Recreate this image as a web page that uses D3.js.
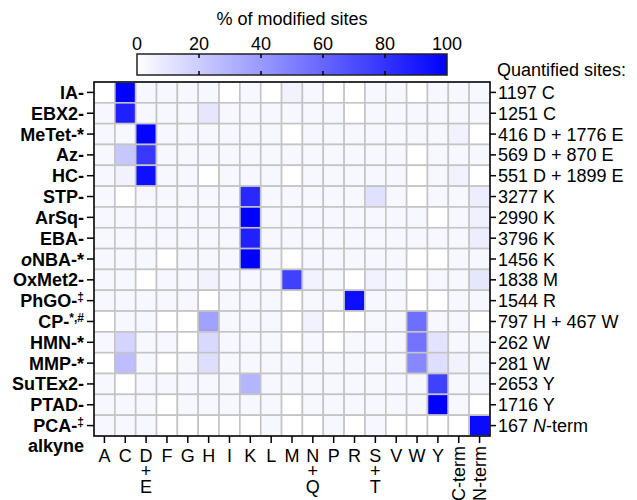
<!DOCTYPE html>
<html>
<head>
<meta charset="utf-8">
<script src="https://cdn.jsdelivr.net/npm/d3@7"></script>
<style>
body { margin: 0; background: #fff; }
text { font-family: Arial, "Liberation Sans", sans-serif; fill: #000; }
</style>
</head>
<body>
<svg id="chart" width="637" height="500"></svg>
<script>
// rows (probes) and their footnote marks
var reagents = ["IA", "EBX2", "MeTet", "Az", "HC", "STP", "ArSq", "EBA", "oNBA",
	"OxMet2", "PhGO", "CP", "HMN", "MMP", "SuTEx2", "PTAD", "PCA"];
var marks = ["", "", "*", "", "", "", "", "", "*", "", "\u2021", "*,#", "*", "*", "", "", "\u2021"];

// columns (residues)
var residues = ["A", "C", "D+E", "F", "G", "H", "I", "K", "L", "M", "N+Q", "P", "R",
	"S+T", "V", "W", "Y", "C-term", "N-term"];

// right-hand labels: quantified sites
var sites = ["1197 C", "1251 C", "416 D + 1776 E", "569 D + 870 E", "551 D + 1899 E",
	"3277 K", "2990 K", "3796 K", "1456 K", "1838 M", "1544 R", "797 H + 467 W",
	"262 W", "281 W", "2653 Y", "1716 Y", "167 N-term"];

// % of modified sites, one row per probe, columns as in residues
var pct = [
	[0, 100, 3, 3, 3, 3, 0, 3, 0, 5, 3, 0, 0, 3, 3, 0, 3, 3, 3],
	[3, 88, 3, 3, 3, 10, 3, 3, 3, 3, 3, 3, 0, 3, 3, 3, 3, 3, 3],
	[3, 3, 99, 3, 3, 3, 3, 3, 3, 0, 3, 3, 3, 3, 3, 3, 3, 5, 0],
	[3, 22, 78, 3, 3, 3, 3, 3, 3, 3, 3, 3, 3, 3, 3, 0, 3, 3, 3],
	[3, 5, 94, 3, 3, 0, 3, 3, 3, 0, 3, 3, 3, 3, 3, 0, 3, 5, 0],
	[3, 0, 3, 3, 3, 3, 3, 84, 3, 3, 3, 3, 3, 12, 3, 0, 3, 3, 7],
	[3, 3, 3, 3, 3, 3, 3, 100, 3, 3, 3, 3, 3, 3, 3, 3, 0, 3, 6],
	[3, 3, 3, 3, 3, 3, 3, 87, 3, 3, 3, 3, 3, 3, 3, 3, 3, 3, 7],
	[3, 3, 3, 0, 3, 3, 3, 100, 3, 0, 3, 3, 3, 3, 3, 0, 0, 3, 3],
	[3, 3, 0, 3, 3, 5, 3, 3, 3, 75, 5, 3, 0, 5, 3, 0, 3, 3, 10],
	[3, 3, 3, 3, 3, 0, 3, 3, 3, 0, 3, 3, 95, 3, 3, 0, 0, 3, 3],
	[0, 3, 3, 0, 0, 37, 3, 3, 3, 0, 5, 0, 0, 3, 3, 57, 3, 3, 0],
	[3, 17, 3, 3, 0, 15, 3, 3, 3, 0, 3, 0, 3, 3, 3, 55, 11, 3, 3],
	[0, 26, 3, 0, 3, 13, 3, 3, 3, 3, 3, 3, 3, 3, 3, 47, 13, 5, 3],
	[3, 0, 3, 3, 3, 3, 3, 29, 3, 3, 3, 3, 3, 3, 3, 3, 75, 3, 3],
	[3, 3, 3, 0, 3, 3, 3, 3, 3, 0, 3, 3, 3, 3, 3, 3, 100, 3, 0],
	[3, 3, 3, 0, 0, 0, 0, 0, 3, 0, 0, 3, 0, 3, 0, 0, 0, 0, 96]
];

var barTicks = [0, 20, 40, 60, 80, 100];

var svg = d3.select("#chart");

var x = d3.scaleBand().domain(residues).range([94, 490]);
var y = d3.scaleBand().domain(reagents).range([82, 436]);
var color = d3.scaleLinear().domain([0, 100]).range(["#ffffff", "#0000ff"]);

// cells
var cells = [];
pct.forEach(function (row, i) {
	row.forEach(function (v, j) {
		cells.push({r: reagents[i], c: residues[j], v: v});
	});
});

svg.append("g").selectAll("rect").data(cells).join("rect")
	.attr("x", d => x(d.c))
	.attr("y", d => y(d.r))
	.attr("width", x.bandwidth())
	.attr("height", y.bandwidth())
	.attr("fill", d => color(d.v))
	.attr("stroke", "#c4c4c4")
	.attr("stroke-width", 1.6);

svg.append("rect")
	.attr("x", 94).attr("y", 82).attr("width", 396).attr("height", 354)
	.attr("fill", "none").attr("stroke", "#000").attr("stroke-width", 1.5);

// axes (ticks only, labels drawn by hand)
function tickOnly(g) {
	g.select(".domain").remove();
	g.selectAll(".tick line").attr("stroke", "#000").attr("stroke-width", 1.5);
	g.selectAll(".tick text").remove();
}
svg.append("g").attr("transform", "translate(94,0)")
	.call(d3.axisLeft(y).tickSize(7)).call(tickOnly);
svg.append("g").attr("transform", "translate(490,0)")
	.call(d3.axisRight(y).tickSize(6)).call(tickOnly);
svg.append("g").attr("transform", "translate(0,436)")
	.call(d3.axisBottom(x).tickSize(7)).call(tickOnly);

// left labels
var left = svg.append("g").selectAll("text").data(reagents).join("text")
	.attr("x", 84)
	.attr("y", d => y(d) + y.bandwidth() / 2 + 6.5)
	.attr("text-anchor", "end")
	.attr("font-size", 18)
	.attr("font-weight", "bold");
left.each(function (d, i) {
	var t = d3.select(this);
	if (d === "oNBA") {
		t.append("tspan").attr("font-style", "italic").text("o");
		t.append("tspan").text("NBA-");
	} else {
		t.append("tspan").text(d + "-");
	}
	var m = marks[i];
	if (m === "*") t.append("tspan").text("*");
	else if (m) t.append("tspan").attr("font-size", 12).attr("dy", -6).text(m);
});
svg.append("text")
	.attr("x", 84).attr("y", 452)
	.attr("text-anchor", "end").attr("font-size", 18).attr("font-weight", "bold")
	.text("alkyne");

// right labels
var right = svg.append("g").selectAll("text").data(sites).join("text")
	.attr("x", 498)
	.attr("y", (d, i) => y(reagents[i]) + y.bandwidth() / 2 + 6.5)
	.attr("font-size", 18);
right.each(function (d) {
	var t = d3.select(this);
	var k = d.indexOf("N-term");
	if (k >= 0) {
		t.append("tspan").text(d.slice(0, k));
		t.append("tspan").attr("font-style", "italic").text("N");
		t.append("tspan").text("-term");
	} else {
		t.text(d);
	}
});
svg.append("text").attr("x", 497).attr("y", 76).attr("font-size", 18)
	.text("Quantified sites:");

// bottom labels
residues.forEach(function (r) {
	var cx = x(r) + x.bandwidth() / 2;
	if (r.indexOf("term") >= 0) {
		svg.append("text")
			.attr("transform", "translate(" + (cx + 6.5) + ",446) rotate(-90)")
			.attr("text-anchor", "end").attr("font-size", 18).text(r);
	} else {
		var parts = r.split("+");
		var t = svg.append("text").attr("y", 462)
			.attr("text-anchor", "middle").attr("font-size", 18);
		t.append("tspan").attr("x", cx).text(parts[0]);
		if (parts.length > 1) {
			t.append("tspan").attr("x", cx).attr("dy", 15).text("+");
			t.append("tspan").attr("x", cx).attr("dy", 16).text(parts[1]);
		}
	}
});

// colour bar
var bx = d3.scaleLinear().domain([0, 100]).range([137, 447]);
var grad = svg.append("defs").append("linearGradient").attr("id", "grad");
grad.selectAll("stop").data([0, 100]).join("stop")
	.attr("offset", d => d + "%").attr("stop-color", d => color(d));
svg.append("rect")
	.attr("x", bx(0)).attr("y", 54).attr("width", bx(100) - bx(0)).attr("height", 21)
	.attr("fill", "url(#grad)").attr("stroke", "#222").attr("stroke-width", 1.5);
var inner = barTicks.filter(t => t > 0 && t < 100);
svg.append("g").selectAll("line").data(inner).join("line")
	.attr("x1", d => bx(d)).attr("x2", d => bx(d)).attr("y1", 54).attr("y2", 58)
	.attr("stroke", "#000").attr("stroke-width", 1.5);
svg.append("g").selectAll("line").data(inner).join("line")
	.attr("x1", d => bx(d)).attr("x2", d => bx(d)).attr("y1", 71).attr("y2", 75)
	.attr("stroke", "#000").attr("stroke-width", 1.5);
svg.append("g").selectAll("text").data(barTicks).join("text")
	.attr("x", d => bx(d)).attr("y", 50)
	.attr("text-anchor", "middle").attr("font-size", 18)
	.text(d => d);
svg.append("text").attr("x", bx(50)).attr("y", 25)
	.attr("text-anchor", "middle").attr("font-size", 18)
	.text("% of modified sites");
</script>
</body>
</html>
